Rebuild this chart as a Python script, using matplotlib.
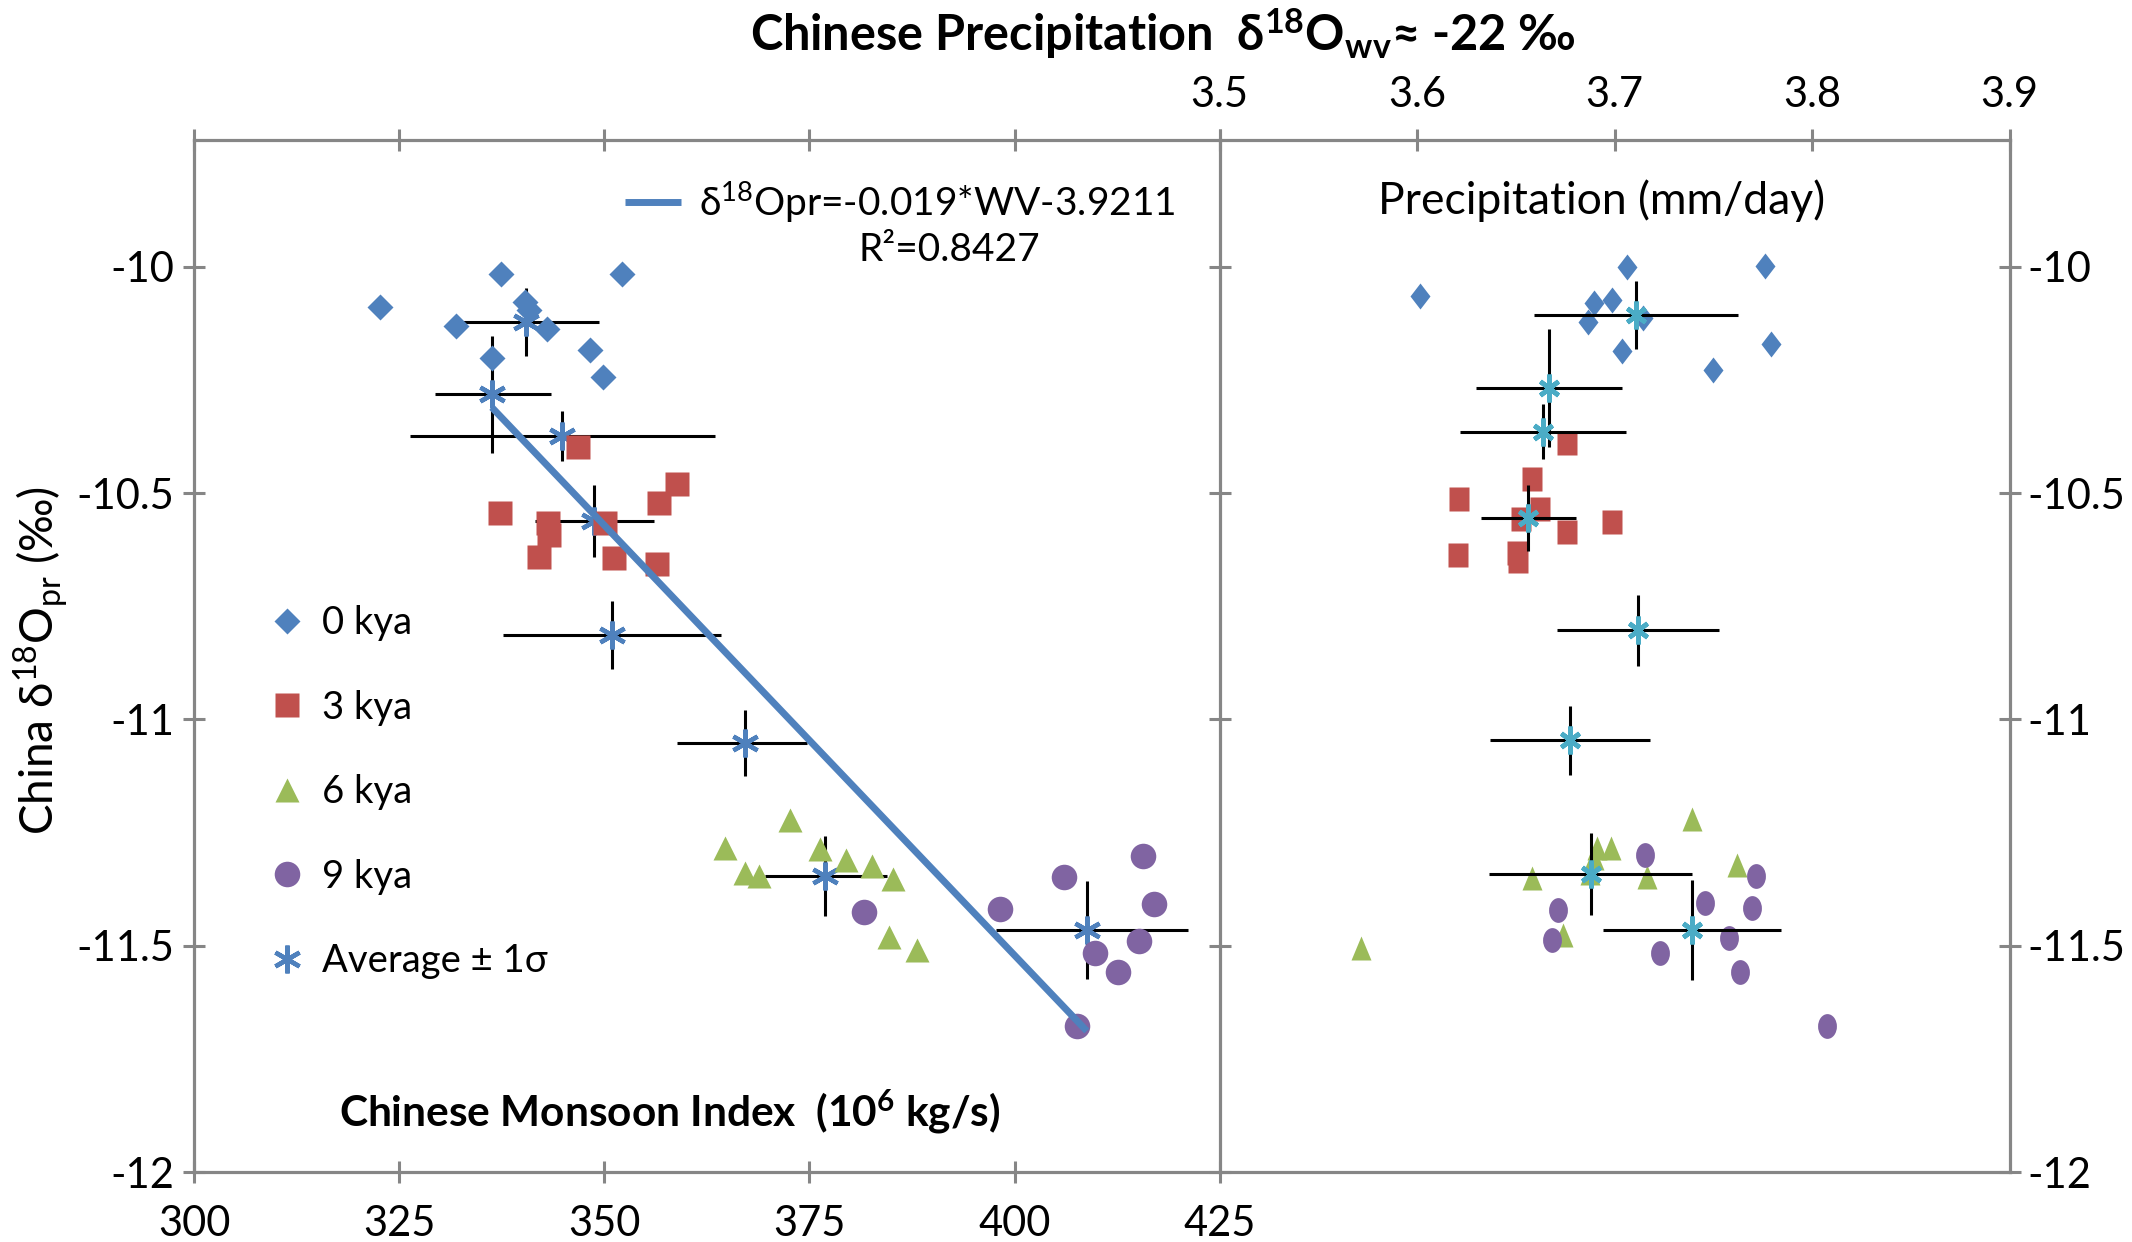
import matplotlib
matplotlib.use('Agg')
import matplotlib.pyplot as plt
import numpy as np
from matplotlib.markers import MarkerStyle
from matplotlib.transforms import Affine2D
from matplotlib.lines import Line2D

# ---------------- data ----------------
# Left panel: Chinese Monsoon Index (10^6 kg/s) vs China d18O_pr
left_x_0 = [322.7, 337.4, 352.2, 340.3, 340.8, 331.9, 343.0, 336.3, 348.2, 349.9]
left_y_0 = [-10.089, -10.017, -10.015, -10.078, -10.096, -10.131, -10.137, -10.201, -10.184, -10.243]
left_x_3 = [337.3, 343.1, 343.3, 342.1, 346.8, 350.1, 351.2, 356.7, 358.9, 356.4]
left_y_3 = [-10.545, -10.567, -10.593, -10.641, -10.398, -10.567, -10.644, -10.523, -10.479, -10.656]
left_x_6 = [372.6, 364.7, 376.3, 379.5, 367.2, 368.9, 382.6, 385.2, 384.7, 388.1]
left_y_6 = [-11.222, -11.284, -11.287, -11.311, -11.340, -11.346, -11.324, -11.353, -11.480, -11.510]
left_x_9 = [381.6, 398.2, 406.0, 415.7, 417.0, 415.2, 409.8, 412.6, 407.6]
left_y_9 = [-11.425, -11.418, -11.349, -11.302, -11.407, -11.490, -11.517, -11.557, -11.677]

left_avg_x = [340.4, 336.3, 344.8, 348.7, 350.9, 367.2, 376.9, 408.8]
left_avg_y = [-10.122, -10.282, -10.374, -10.562, -10.814, -11.052, -11.346, -11.465]
left_xerr_lo = [7.6, 6.9, 18.5, 7.1, 13.3, 8.3, 7.3, 11.1]
left_xerr_hi = [9.0, 7.2, 18.7, 7.3, 13.3, 7.5, 7.6, 12.3]
left_yerr = [0.075, 0.13, 0.056, 0.08, 0.075, 0.073, 0.088, 0.108]

trend_slope = -0.019
trend_intercept = -3.9211
trend_label = "δ$^{18}$Opr=-0.019*WV-3.9211"
r2_label = "R²=0.8427"

# Right panel: Precipitation (mm/day) vs China d18O_pr
right_x_0 = [3.6013, 3.7064, 3.7761, 3.6895, 3.6985, 3.6866, 3.7145, 3.7035, 3.7791, 3.7496]
right_y_0 = [-10.065, -10.000, -9.999, -10.080, -10.074, -10.122, -10.114, -10.187, -10.170, -10.229]
right_x_3 = [3.6760, 3.6583, 3.6213, 3.6622, 3.6524, 3.6760, 3.6988, 3.6208, 3.6504, 3.6509]
right_y_3 = [-10.389, -10.469, -10.512, -10.536, -10.558, -10.586, -10.564, -10.637, -10.633, -10.650]
right_x_6 = [3.7390, 3.6909, 3.6981, 3.6897, 3.7618, 3.6583, 3.7162, 3.6875, 3.6740, 3.5714]
right_y_6 = [-11.220, -11.285, -11.283, -11.307, -11.322, -11.351, -11.348, -11.340, -11.476, -11.506]
right_x_9 = [3.7153, 3.7714, 3.7457, 3.7697, 3.6713, 3.6681, 3.7579, 3.7229, 3.7634, 3.8076]
right_y_9 = [-11.300, -11.346, -11.405, -11.417, -11.421, -11.487, -11.482, -11.515, -11.559, -11.677]

right_avg_x = [3.7108, 3.6669, 3.6638, 3.6563, 3.7120, 3.6774, 3.6878, 3.7390]
right_avg_y = [-10.107, -10.268, -10.364, -10.555, -10.803, -11.046, -11.342, -11.465]
right_xerr = [0.0515, 0.037, 0.042, 0.024, 0.041, 0.0405, 0.0515, 0.045]
right_yerr = [0.075, 0.13, 0.06, 0.072, 0.078, 0.076, 0.09, 0.11]

series_labels = ["0 kya", "3 kya", "6 kya", "9 kya", "Average ± 1σ"]
y_ticks = [-12, -11.5, -11, -10.5, -10]
y_ticklabels = ["-12", "-11.5", "-11", "-10.5", "-10"]
left_xticks = [300, 325, 350, 375, 400, 425]
left_xticklabels = ["300", "325", "350", "375", "400", "425"]
right_xticks = [3.5, 3.6, 3.7, 3.8, 3.9]
right_xticklabels = ["3.5", "3.6", "3.7", "3.8", "3.9"]

# ---------------- style ----------------
plt.rcParams['font.family'] = ['Lato', 'DejaVu Sans']
plt.rcParams['mathtext.fontset'] = 'custom'
plt.rcParams['mathtext.rm'] = 'Lato'
plt.rcParams['mathtext.it'] = 'Lato:italic'
plt.rcParams['mathtext.bf'] = 'Lato:bold'
plt.rcParams['axes.unicode_minus'] = False

BLUE = '#4F81BD'
RED = '#C0504D'
GREEN = '#9BBB59'
PURPLE = '#8064A2'
CYAN = '#4BACC6'
GRAY = '#868686'
TICK_FS = 30
LEG_FS = 27.5

MS_D = 12.8
MS_S = 17.4
MS_T = 17.8
MS_O = 18.4

W, H = 2132, 1242
fig = plt.figure(figsize=(W / 100, H / 100), dpi=100)

L = 194 / W
D = 1219.7 / W
R = 2009.7 / W
B = 1 - 1172.1 / H
T = 1 - 140 / H
axL = fig.add_axes([L, B, D - L, T - B])
axR = fig.add_axes([D, B, R - D, T - B])

for ax in (axL, axR):
    ax.set_ylim(-12, -9.72)
    for s in ax.spines.values():
        s.set_color(GRAY)
        s.set_linewidth(2.3)
    ax.set_yticks(y_ticks)
    ax.set_yticklabels(y_ticklabels)
    ax.tick_params(axis='both', direction='inout', length=16, width=2.2,
                   color=GRAY, labelsize=TICK_FS, labelcolor='black')

axL.set_xlim(300, 425)
axR.set_xlim(3.5, 3.9)
axL.spines['right'].set_visible(False)

axL.set_xticks(left_xticks)
axL.set_xticklabels(left_xticklabels)
axL.tick_params(axis='x', bottom=True, top=True, labelbottom=True, labeltop=False, pad=16)
axL.tick_params(axis='y', left=True, right=False, labelleft=True, pad=6)

axR.set_xticks(right_xticks)
axR.set_xticklabels(right_xticklabels)
axR.tick_params(axis='x', bottom=False, top=True, labelbottom=False, labeltop=True, pad=11)
axR.tick_params(axis='y', left=True, right=True, labelleft=False, labelright=True, pad=5)

# ---------------- left panel ----------------
axL.errorbar(left_avg_x, left_avg_y, xerr=[left_xerr_lo, left_xerr_hi], yerr=left_yerr,
             fmt='none', ecolor='black', elinewidth=2.2, capsize=0, zorder=2)
axL.plot(left_avg_x, left_avg_y, ls='none', marker=(6, 2, 0), ms=20, mec=BLUE,
         mew=3.2, zorder=3)
axL.plot(left_x_0, left_y_0, ls='none', marker='D', ms=MS_D, mfc=BLUE, mec='none', zorder=4)
axL.plot(left_x_3, left_y_3, ls='none', marker='s', ms=MS_S, mfc=RED, mec='none', zorder=4)
axL.plot(left_x_6, left_y_6, ls='none', marker='^', ms=MS_T, mfc=GREEN, mec='none', zorder=4)
axL.plot(left_x_9, left_y_9, ls='none', marker='o', ms=MS_O, mfc=PURPLE, mec='none', zorder=4)

tx = np.array([min(left_avg_x), max(left_avg_x)])
trend, = axL.plot(tx, trend_slope * tx + trend_intercept, color=BLUE, lw=5.0,
                  solid_capstyle='butt', zorder=5)

# legends
handles = [
    Line2D([], [], ls='none', marker='D', ms=MS_D, mfc=BLUE, mec='none'),
    Line2D([], [], ls='none', marker='s', ms=MS_S, mfc=RED, mec='none'),
    Line2D([], [], ls='none', marker='^', ms=MS_T, mfc=GREEN, mec='none'),
    Line2D([], [], ls='none', marker='o', ms=MS_O, mfc=PURPLE, mec='none'),
    Line2D([], [], ls='none', marker=(6, 2, 0), ms=20, mec=BLUE, mew=3.2),
]
fsp = LEG_FS * 100 / 72
leg = axL.legend(handles, series_labels, loc='upper left',
                 bbox_to_anchor=((287 - fsp / 2) / W, 1 - 605 / H),
                 bbox_transform=fig.transFigure, frameon=False, fontsize=LEG_FS,
                 borderpad=0, borderaxespad=0, handlelength=1.0, handletextpad=0.42,
                 labelspacing=1.27)
axL.add_artist(leg)
leg2 = axL.legend([trend], [trend_label], loc='upper left',
                  bbox_to_anchor=(625 / W, 1 - 180 / H), bbox_transform=fig.transFigure,
                  frameon=False, fontsize=28, borderpad=0, borderaxespad=0,
                  handlelength=55 / fsp, handletextpad=18 / fsp)
fig.text(949 / W, 1 - 250 / H, r2_label, ha='center', va='center', fontsize=28)

# ---------------- right panel ----------------
def squeeze(m, sx):
    return MarkerStyle(m, transform=Affine2D().scale(sx, 1.0))

axR.plot(right_x_0, right_y_0, ls='none', marker=squeeze('D', 0.76), ms=MS_D * 1.03, mfc=BLUE, mec='none', zorder=2)
axR.plot(right_x_3, right_y_3, ls='none', marker=squeeze('s', 0.78), ms=MS_S * 1.03, mfc=RED, mec='none', zorder=2)
axR.plot(right_x_6, right_y_6, ls='none', marker=squeeze('^', 0.82), ms=MS_T, mfc=GREEN, mec='none', zorder=2)
axR.plot(right_x_9, right_y_9, ls='none', marker=squeeze('o', 0.76), ms=MS_O * 0.97, mfc=PURPLE, mec='none', zorder=2)
axR.errorbar(right_avg_x, right_avg_y, xerr=right_xerr, yerr=right_yerr,
             fmt='none', ecolor='black', elinewidth=2.2, capsize=0, zorder=3)
axR.plot(right_avg_x, right_avg_y, ls='none', marker=squeeze((6, 2, 0), 0.75), ms=20,
         mec=CYAN, mew=3.4, zorder=4)

# ---------------- texts ----------------
fig.text(1163 / W, 1 - 34 / H, "Chinese Precipitation  δ$^{\\mathbf{18}}$O$_{\\mathbf{wv}}$≈ -22 ‰",
         ha='center', va='center', fontsize=35, fontweight='bold')
fig.text(1602 / W, 1 - 201 / H, "Precipitation (mm/day)", ha='center', va='center', fontsize=32)
fig.text(670 / W, 1 - 1112 / H, "Chinese Monsoon Index  (10$^{\\mathbf{6}}$ kg/s)",
         ha='center', va='center', fontsize=30.5, fontweight='bold')
fig.text(41 / W, 1 - 660 / H, "China δ$^{18}$O$_{\\mathrm{pr}}$ (‰)", rotation=90,
         ha='center', va='center', fontsize=33)

fig.savefig('out.png', dpi=100)
